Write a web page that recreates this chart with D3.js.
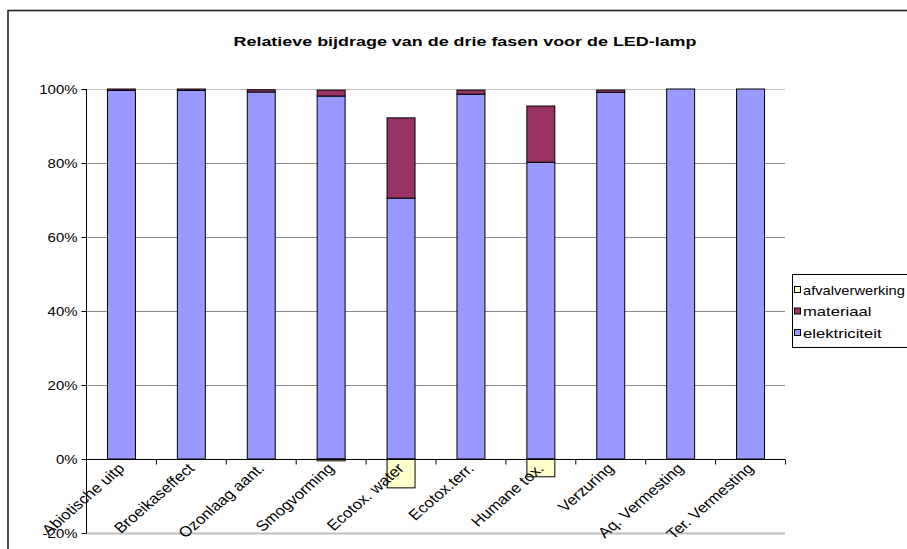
<!DOCTYPE html>
<html>
<head>
<meta charset="utf-8">
<script src="https://cdn.jsdelivr.net/npm/d3@7/dist/d3.min.js"></script>
<style>
  html, body { margin: 0; padding: 0; background: #fff; }
  svg { display: block; }
  text { font-family: "Liberation Sans", Arial, sans-serif; fill: #000; }
</style>
</head>
<body>
<svg id="chart" width="907" height="549"></svg>
<script>
// Impact categories (x axis)
const categories = [
  "Abiotische uitp", "Broeikaseffect", "Ozonlaag aant.", "Smogvorming",
  "Ecotox. water", "Ecotox.terr.", "Humane tox.", "Verzuring",
  "Aq. Vermesting", "Ter. Vermesting"
];

// Share of each life-cycle phase, in percent
const elektriciteit   = [99.6, 99.6, 99.2, 98.1, 70.5, 98.6, 80.2, 99.1, 100, 100];
const materiaal       = [0.4, 0.4, 0.6, 1.6, 21.7, 1.1, 15.2, 0.6, 0, 0];
const afvalverwerking = [0, 0, 0, -0.5, -7.8, 0, -4.8, 0, 0, 0];

const yTicks = [-20, 0, 20, 40, 60, 80, 100];

const seriesNames = ["elektriciteit", "materiaal", "afvalverwerking"];
const seriesColors = { elektriciteit: "#9999ff", materiaal: "#993366", afvalverwerking: "#ffffcc" };
const legendOrder = ["afvalverwerking", "materiaal", "elektriciteit"];

const rows = categories.map((c, i) => ({
  cat: c,
  elektriciteit: elektriciteit[i],
  materiaal: materiaal[i],
  afvalverwerking: afvalverwerking[i]
}));

const svg = d3.select("#chart");
const W = 907;
const sx = 1.15; // horizontal stretch of the lettering

// outer chart frame
svg.append("rect")
  .attr("x", 8).attr("y", 10.5).attr("width", 1000).attr("height", 600)
  .attr("fill", "none").attr("stroke", "#222").attr("stroke-width", 1.6);

const plotLeft = 86, plotRight = 785, plotTop = 89, plotBottom = 533;

const x = d3.scaleBand().domain(categories).range([plotLeft, plotRight]).paddingInner(0.6).paddingOuter(0.3);
const band = (plotRight - plotLeft) / categories.length;
const y = d3.scaleLinear().domain([-20, 100]).range([plotBottom, plotTop]);

// title
svg.append("text")
  .attr("x", 465).attr("y", 46)
  .attr("text-anchor", "middle")
  .attr("font-size", 13.5).attr("font-weight", "bold")
  .attr("textLength", 463).attr("lengthAdjust", "spacingAndGlyphs")
  .text("Relatieve bijdrage van de drie fasen voor de LED-lamp");

// horizontal gridlines
svg.append("g").selectAll("line")
  .data(yTicks.filter(t => t !== 0))
  .join("line")
  .attr("x1", plotLeft).attr("x2", plotRight)
  .attr("y1", d => Math.round(y(d)) + 0.5).attr("y2", d => Math.round(y(d)) + 0.5)
  .attr("stroke", d => (d === 100 || d === -20) ? "#c0c0c0" : "#8a8a8a")
  .attr("stroke-width", d => d === -20 ? 2 : 1);

// stacked bars
const stack = d3.stack().keys(seriesNames).offset(d3.stackOffsetDiverging);
const layers = stack(rows);

svg.append("g").selectAll("g")
  .data(layers)
  .join("g")
  .attr("fill", d => seriesColors[d.key])
  .selectAll("rect")
  .data(d => d.filter(s => s[1] - s[0] !== 0))
  .join("rect")
  .attr("x", d => x(d.data.cat) + 0.5)
  .attr("width", x.bandwidth())
  .attr("y", d => y(Math.max(d[0], d[1])))
  .attr("height", d => Math.abs(y(d[0]) - y(d[1])))
  .attr("stroke", "#000").attr("stroke-width", 1);

// y axis
const yAxis = svg.append("g").attr("transform", `translate(${plotLeft + 0.5},0)`);
yAxis.append("line").attr("y1", plotTop).attr("y2", plotBottom).attr("stroke", "#000");
yAxis.selectAll("line.tick").data(yTicks).join("line")
  .attr("class", "tick")
  .attr("x1", -5).attr("x2", 0)
  .attr("y1", d => Math.round(y(d)) + 0.5).attr("y2", d => Math.round(y(d)) + 0.5)
  .attr("stroke", "#000");
yAxis.selectAll("g.lbl").data(yTicks).join("g")
  .attr("class", "lbl")
  .attr("transform", d => `translate(-9,${y(d) + 4.5}) scale(${sx},1)`)
  .append("text")
  .attr("text-anchor", "end")
  .attr("font-size", 13)
  .text(d => d + "%");

// x axis at zero
const xAxis = svg.append("g").attr("transform", `translate(0,${Math.round(y(0)) + 0.5})`);
xAxis.append("line").attr("x1", plotLeft).attr("x2", plotRight).attr("stroke", "#000");
xAxis.selectAll("line.tick").data(d3.range(categories.length + 1)).join("line")
  .attr("class", "tick")
  .attr("x1", i => plotLeft + i * band + 0.5).attr("x2", i => plotLeft + i * band + 0.5)
  .attr("y1", 0).attr("y2", 5)
  .attr("stroke", "#000");

svg.append("g").selectAll("g")
  .data(categories)
  .join("g")
  .attr("transform", d => `translate(${x(d) + x.bandwidth() / 2 - 4},${y(0) + 3}) scale(${sx},1) rotate(-45)`)
  .append("text")
  .attr("text-anchor", "end")
  .attr("dy", "0.72em")
  .attr("font-size", 14.5)
  .text(d => d);

// legend
const lg = svg.append("g").attr("transform", "translate(792,274)");
lg.append("rect")
  .attr("x", 0.5).attr("y", 0.5).attr("width", 200).attr("height", 73)
  .attr("fill", "#fff").attr("stroke", "#000");
const item = lg.selectAll("g.item").data(legendOrder).join("g")
  .attr("class", "item")
  .attr("transform", (d, i) => `translate(2,${16 + i * 21.5})`);
item.append("rect")
  .attr("x", 0.5).attr("y", -3.5).attr("width", 6).attr("height", 6)
  .attr("fill", d => seriesColors[d]).attr("stroke", "#000");
const legendLabel = item.append("g")
  .attr("transform", `translate(9,4.5)`);
legendLabel.append("text")
  .attr("font-size", 13)
  .text(d => d)
  .each(function () {
    // widen the lettering, but keep each entry inside the page
    const w = this.getComputedTextLength();
    const room = W - 2 - (792 + 2 + 9);
    const s = Math.min(1.28, room / w);
    d3.select(this.parentNode).attr("transform", `translate(9,4.5) scale(${s},1)`);
  });
</script>
</body>
</html>
